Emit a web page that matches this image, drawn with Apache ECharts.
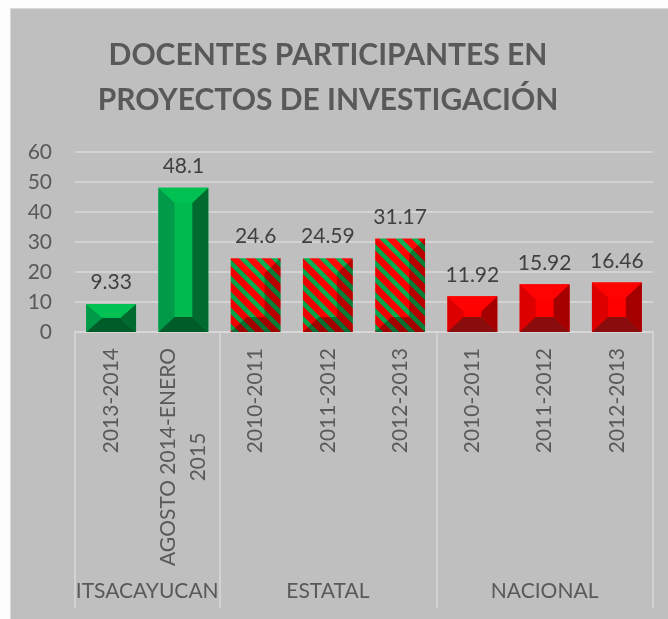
<!DOCTYPE html>
<html>
<head>
<meta charset="utf-8">
<script src="https://cdn.jsdelivr.net/npm/echarts@6/dist/echarts.min.js"></script>
<style>
html, body { margin: 0; padding: 0; background: #BFBFBF; overflow: hidden; }
#panel { position: absolute; left: 0; top: 0; width: 2000px; height: 2000px; box-sizing: border-box;
         border-left: 10px solid #FDFDFD; border-top: 8px solid #FDFDFD; background: #BFBFBF;
         box-shadow: inset 1px 1px 0 #D9D9D9; }
#main { position: absolute; left: 0; top: 0; width: 668px; height: 619px; }
</style>
</head>
<body>
<div id="panel"></div>
<div id="main"></div>
<script>
// datos
const periodos = ['2013-2014', 'AGOSTO 2014-ENERO 2015', '2010-2011', '2011-2012', '2012-2013', '2010-2011', '2011-2012', '2012-2013'];
const docentes = [9.33, 48.1, 24.6, 24.59, 31.17, 11.92, 15.92, 16.46];
const grupos = ['ITSACAYUCAN', 'ESTATAL', 'NACIONAL'];
const tamGrupo = [2, 3, 3];
const yTicks = [0, 10, 20, 30, 40, 50, 60];

const FONT = 'Lato';
const GRIS = '#595959';

// limites y centros de cada grupo (en unidades de categoria)
const limites = [0];
tamGrupo.forEach(n => limites.push(limites[limites.length - 1] + n));
const centros = tamGrupo.map((n, g) => limites[g] + n / 2);
const grupoDe = i => limites.findIndex((l, g) => i >= l && i < limites[g + 1]);

// patron de rayas rojo / verde
const T = 16;
const tile = document.createElement('canvas');
tile.width = tile.height = T;
const c = tile.getContext('2d');
c.fillStyle = '#FF0000';
c.fillRect(0, 0, T, T);
c.strokeStyle = '#00B050';
c.lineWidth = 4.5;
[-T, 0, T].forEach(k => {
    c.beginPath();
    c.moveTo(-2, -2 + k);
    c.lineTo(T + 2, T + 2 + k);
    c.stroke();
});

const paletas = [
    { base: '#00B94F', top: '#00C152', left: '#009A48', right: '#006A2F', bottom: '#005D29' },
    { base: { image: tile, repeat: 'repeat' }, top: 'rgba(255,255,255,0.03)', left: 'rgba(0,0,0,0.06)', right: 'rgba(0,0,0,0.28)', bottom: 'rgba(0,0,0,0.36)' },
    { base: '#FF0000', top: '#FF0303', left: '#DC0000', right: '#A40000', bottom: '#8B0C0C' }
];

// ancho del texto largo para centrar "2015" bajo la primera linea
const mc = document.createElement('canvas').getContext('2d');
mc.font = '21px ' + FONT;
const anchoLargo = Math.ceil(mc.measureText('AGOSTO 2014-ENERO').width);

function renderBisel(params, api) {
    const i = api.value(0);
    const v = api.value(1);
    const top = api.coord([i, v]);
    const base = api.coord([i, 0]);
    const w = api.size([1, 0])[0] * 0.69;
    const x0 = top[0] - w / 2, x1 = top[0] + w / 2;
    const y0 = top[1], y1 = base[1];
    const bx = Math.min(16, w / 2);
    const by = Math.min(15, (y1 - y0) / 2);
    const p = paletas[grupoDe(i)];
    const poly = (pts, fill) => ({ type: 'polygon', shape: { points: pts }, style: { fill: fill } });
    return {
        type: 'group',
        children: [
            { type: 'rect', shape: { x: x0, y: y0, width: w, height: y1 - y0 }, style: { fill: p.base } },
            poly([[x0, y0], [x0 + bx, y0 + by], [x0 + bx, y1 - by], [x0, y1]], p.left),
            poly([[x1, y0], [x1 - bx, y0 + by], [x1 - bx, y1 - by], [x1, y1]], p.right),
            poly([[x0, y0], [x1, y0], [x1 - bx, y0 + by], [x0 + bx, y0 + by]], p.top),
            poly([[x0, y1], [x1, y1], [x1 - bx, y1 - by], [x0 + bx, y1 - by]], p.bottom)
        ]
    };
}

const option = {
    backgroundColor: 'transparent',
    animation: false,
    textStyle: { fontFamily: FONT },
    title: {
        text: 'DOCENTES PARTICIPANTES EN\nPROYECTOS DE INVESTIGACIÓN',
        left: 328,
        top: 33,
        textAlign: 'center',
        padding: 0,
        textStyle: { fontFamily: FONT, fontWeight: 'bold', fontSize: 30, color: GRIS, lineHeight: 45 }
    },
    grid: { left: 75, right: 15, top: 152, bottom: 287, containLabel: false },
    xAxis: [
        {
            type: 'category',
            data: periodos,
            axisLine: { show: true, lineStyle: { color: '#D9D9D9', width: 1.5 } },
            axisTick: { show: false },
            axisLabel: {
                rotate: 90,
                interval: 0,
                margin: 16,
                fontSize: 21,
                color: GRIS,
                fontFamily: FONT,
                formatter: v => v === 'AGOSTO 2014-ENERO 2015' ? '{w|AGOSTO 2014-ENERO\n2015}' : v,
                rich: { w: { width: anchoLargo, align: 'center', lineHeight: 30, fontSize: 21, color: GRIS, fontFamily: FONT } }
            }
        },
        {
            type: 'value',
            position: 'bottom',
            min: 0,
            max: limites[limites.length - 1],
            axisLine: { show: false },
            splitLine: { show: false },
            axisTick: {
                show: true,
                customValues: limites,
                length: 276,
                lineStyle: { color: '#D9D9D9', width: 1.5 }
            },
            axisLabel: {
                customValues: centros,
                margin: 249,
                fontSize: 21,
                color: GRIS,
                fontFamily: FONT,
                formatter: v => grupos[centros.indexOf(v)]
            }
        }
    ],
    yAxis: {
        type: 'value',
        min: yTicks[0],
        max: yTicks[yTicks.length - 1],
        interval: yTicks[1] - yTicks[0],
        axisLine: { show: false },
        axisTick: { show: false },
        axisLabel: { fontSize: 21, color: GRIS, margin: 23, fontFamily: FONT },
        splitLine: { lineStyle: { color: '#DADADA', width: 1.5 } }
    },
    series: [
        {
            type: 'custom',
            xAxisIndex: 0,
            renderItem: renderBisel,
            data: docentes.map((v, i) => [i, v]),
            z: 2
        },
        {
            type: 'bar',
            xAxisIndex: 0,
            barWidth: '69%',
            data: docentes,
            itemStyle: { color: 'rgba(0,0,0,0)' },
            label: { show: true, position: 'top', distance: 11, fontSize: 21, color: '#404040', fontFamily: FONT },
            z: 3
        }
    ]
};

const chart = echarts.init(document.getElementById('main'));
chart.setOption(option);
</script>
</body>
</html>
